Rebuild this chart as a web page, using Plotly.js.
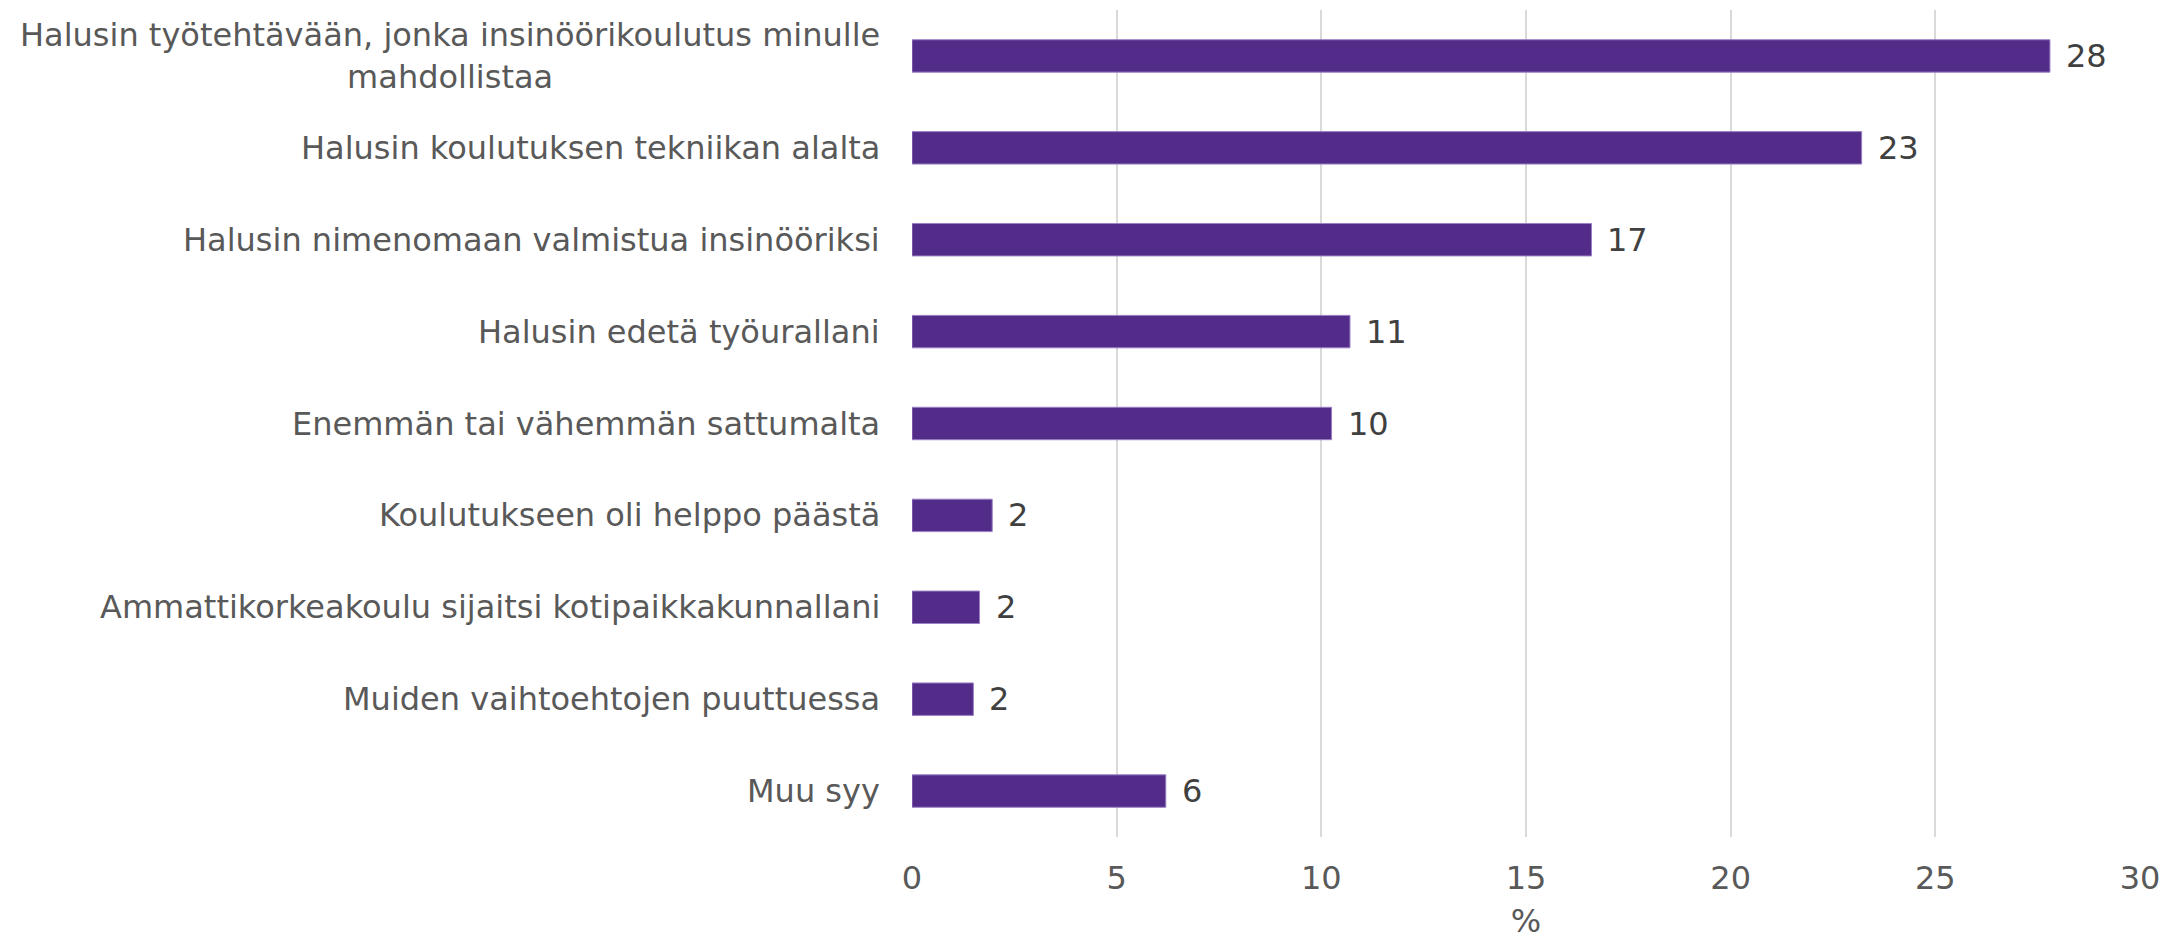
<!DOCTYPE html>
<html>
<head>
<meta charset="utf-8">
<script src="https://cdn.plot.ly/plotly-3.0.1.min.js"></script>
<style>html,body{margin:0;padding:0;background:#fff;}#chart{width:2164px;height:940px;}</style>
</head>
<body>
<div id="chart"></div>
<script>
const categories = [
  "Halusin työtehtävään, jonka insinöörikoulutus minulle<br>mahdollistaa",
  "Halusin koulutuksen tekniikan alalta",
  "Halusin nimenomaan valmistua insinööriksi",
  "Halusin edetä työurallani",
  "Enemmän tai vähemmän sattumalta",
  "Koulutukseen oli helppo päästä",
  "Ammattikorkeakoulu sijaitsi kotipaikkakunnallani",
  "Muiden vaihtoehtojen puuttuessa",
  "Muu syy"
];
const values = [27.8, 23.2, 16.6, 10.7, 10.25, 1.96, 1.65, 1.5, 6.2];
const valueLabels = ["28", "23", "17", "11", "10", "2", "2", "2", "6"];
const xTicks = [0, 5, 10, 15, 20, 25, 30];
const xTitle = "%";

const FONT = "DejaVu Sans, Verdana, sans-serif";

const trace = {
  type: "bar",
  orientation: "h",
  x: values,
  y: categories,
  marker: { color: "#532C8A", line: { color: "#9A80C4", width: 1 } },
  hoverinfo: "skip"
};

const annotations = [];
categories.forEach((c, i) => {
  annotations.push({
    xref: "paper", yref: "y", x: 0, y: c,
    text: c, showarrow: false,
    xanchor: "right", yanchor: "middle", align: "center",
    xshift: -30,
    font: { family: FONT, size: 32, color: "#595959" }
  });
  annotations.push({
    xref: "x", yref: "y", x: values[i], y: c,
    text: valueLabels[i], showarrow: false,
    xanchor: "left", yanchor: "middle",
    xshift: 14,
    font: { family: FONT, size: 32, color: "#404040" }
  });
});

const layout = {
  width: 2164, height: 940,
  margin: { l: 912, r: 24, t: 10, b: 103, pad: 0 },
  paper_bgcolor: "#ffffff",
  plot_bgcolor: "#ffffff",
  showlegend: false,
  bargap: 0.647,
  font: { family: FONT, size: 32, color: "#595959" },
  xaxis: {
    range: [0, 30],
    tickvals: xTicks,
    ticktext: xTicks.map(String),
    showgrid: true, gridcolor: "#D9D9D9", gridwidth: 2,
    zeroline: false, showline: false, ticks: "",
    ticklabelstandoff: 19,
    tickfont: { family: FONT, size: 32, color: "#595959" },
    title: { text: xTitle, font: { family: FONT, size: 32, color: "#595959" }, standoff: 20 },
    automargin: false, fixedrange: true
  },
  yaxis: {
    type: "category",
    autorange: "reversed",
    showticklabels: false,
    showgrid: false, zeroline: false, showline: false, ticks: "",
    automargin: false, fixedrange: true
  },
  annotations: annotations
};

Plotly.newPlot("chart", [trace], layout, { displayModeBar: false, staticPlot: true });
</script>
</body>
</html>
